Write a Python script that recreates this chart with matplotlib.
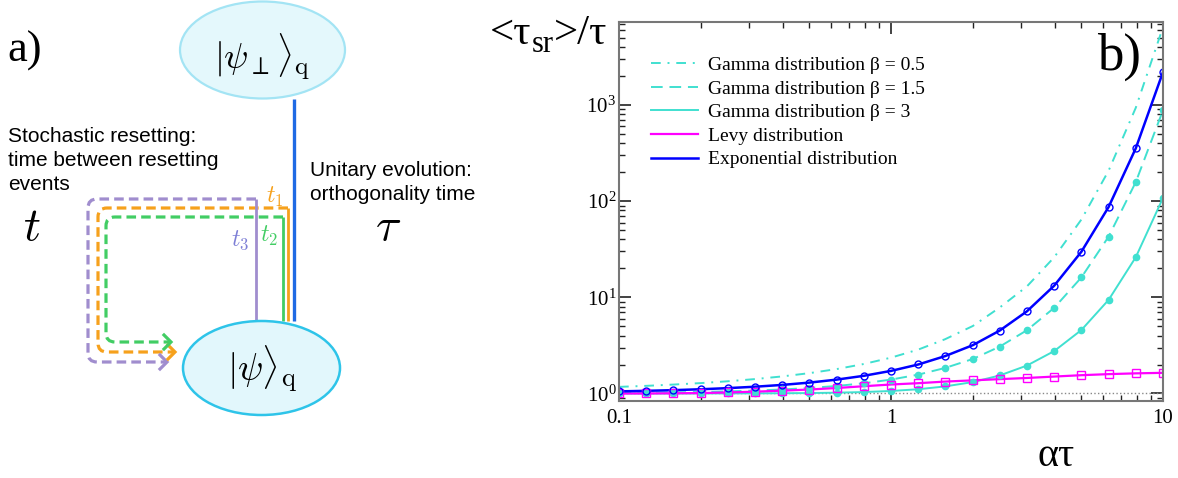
import matplotlib
matplotlib.use("Agg")
import matplotlib.pyplot as plt
from matplotlib.patches import Ellipse, PathPatch
from matplotlib.path import Path

plt.rcParams["font.family"] = ["Liberation Serif", "DejaVu Serif"]
plt.rcParams["mathtext.fontset"] = "stix"

# ---- panel b) data: <tau_sr>/tau against alpha*tau ----
alpha_tau = [0.1, 0.126, 0.158, 0.2, 0.251, 0.316, 0.398, 0.501, 0.631, 0.794,
             1.0, 1.26, 1.58, 2.0, 2.51, 3.16, 3.98, 5.01, 6.31, 7.94, 10.0]
exp_ratio = [1.052, 1.066, 1.083, 1.107, 1.137, 1.176, 1.228, 1.298, 1.394, 1.527,
             1.718, 2.003, 2.447, 3.184, 4.511, 7.154, 13.21, 29.77, 87.0, 354.2, 2202.5]
gamma_05 = [1.172, 1.201, 1.238, 1.283, 1.340, 1.412, 1.505, 1.628, 1.794, 2.026,
            2.359, 2.863, 3.666, 5.037, 7.838, 12.99, 26.07, 64.4, 207.5, 935.0, 6456.0]
gamma_15 = [1.0136, 1.019, 1.0266, 1.0371, 1.0518, 1.0722, 1.1007, 1.1407, 1.1971, 1.2778,
            1.395, 1.571, 1.843, 2.286, 3.073, 4.548, 7.776, 16.09, 42.8, 157.7, 883.6]
gamma_3 = [1.0001, 1.0002, 1.0004, 1.0009, 1.0016, 1.0031, 1.0058, 1.0107, 1.0196, 1.0351,
           1.0619, 1.1074, 1.1844, 1.3149, 1.5401, 1.9515, 2.7607, 4.568, 9.409, 26.11, 108.2]
levy_ratio = [1.00, 1.00, 1.005, 1.01, 1.025, 1.045, 1.07, 1.10, 1.14, 1.19,
              1.24, 1.28, 1.33, 1.37, 1.41, 1.45, 1.50, 1.55, 1.59, 1.62, 1.64]

TURQ = "#40e0d0"
PURPLE = "#a08dce"
ORANGE = "#f6a11c"
GREEN = "#42cd64"

fig = plt.figure(figsize=(11.78, 4.78), dpi=100)

# ---- panel a): schematic, drawn in pixel coordinates ----
ax0 = fig.add_axes([0, 0, 1, 1])
ax0.set_xlim(0, 1178)
ax0.set_ylim(478, 0)
ax0.axis("off")
ax0.set_zorder(3)


def reset_route(x_right, y_top, x_left, y_bot, x_tip, r=9):
    verts = [(x_right, y_top), (x_left + r, y_top), (x_left, y_top), (x_left, y_top + r),
             (x_left, y_bot - r), (x_left, y_bot), (x_left + r, y_bot), (x_tip, y_bot)]
    codes = [Path.MOVETO, Path.LINETO, Path.CURVE3, Path.CURVE3,
             Path.LINETO, Path.CURVE3, Path.CURVE3, Path.LINETO]
    return Path(verts, codes)


routes = [
    # colour, solid x, top y, left x, bottom y, arrow tip x
    (PURPLE, 256, 199, 88, 362, 167),
    (ORANGE, 288, 208, 98, 352, 175),
    (GREEN, 283, 217, 106, 342, 171),
]
for col, xr, yt, xl, yb, xt in routes:
    ax0.plot([xr, xr], [321, yt], color=col, lw=2.0, solid_capstyle="butt")
    ax0.add_patch(PathPatch(reset_route(xr, yt, xl, yb, xt), fill=False, edgecolor=col,
                            lw=2.3, linestyle=(0, (3.0, 1.6))))
    ax0.plot([xt - 7, xt, xt - 7], [yb - 7, yb, yb + 7], color=col, lw=2.3,
             solid_joinstyle="miter")

ax0.plot([294, 294], [99, 321], color="#1f6ae4", lw=2.4, solid_capstyle="butt")

ax0.add_patch(Ellipse((262.5, 50), 165, 97, facecolor="#e4f8fc", edgecolor="#a3e4f4", lw=1.6))
ax0.add_patch(Ellipse((261.5, 368), 157, 94, facecolor="#e2f7fc", edgecolor="#2ec4e9", lw=1.8,
                      zorder=3))
ax0.text(262, 57, r"$|\psi_\perp\rangle_{\rm q}$", math_fontfamily="cm", fontsize=26,
         ha="center", va="center")
ax0.text(262, 369, r"$|\psi\rangle_{\rm q}$", math_fontfamily="cm", fontsize=27,
         ha="center", va="center", zorder=4)

ax0.text(275, 197, r"$t_1$", math_fontfamily="cm", fontsize=17, color=ORANGE,
         ha="center", va="center")
ax0.text(269, 236, r"$t_2$", math_fontfamily="cm", fontsize=17, color=GREEN,
         ha="center", va="center")
ax0.text(240, 240, r"$t_3$", math_fontfamily="cm", fontsize=17, color="#7d7fd6",
         ha="center", va="center")

ax0.text(7, 51, "a)", fontsize=32, ha="left", va="center")
ax0.text(8, 127, "Stochastic resetting:\ntime between resetting\nevents",
         family="Liberation Sans", fontsize=15, ha="left", va="top", linespacing=1.32)
ax0.text(310, 161, "Unitary evolution:\northogonality time",
         family="Liberation Sans", fontsize=15, ha="left", va="top", linespacing=1.32)
ax0.text(32, 229, r"$t$", math_fontfamily="cm", fontsize=34, ha="center", va="center")
ax0.text(388, 229, r"$\tau$", math_fontfamily="cm", fontsize=34, ha="center", va="center")

# ---- panel b): log-log plot ----
ax = fig.add_axes([619 / 1178, 77 / 478, 544 / 1178, 379 / 478])
ax.set_xscale("log")
ax.set_yscale("log")

ax.axhline(1.0, color="#888888", ls=":", lw=1.0)
ax.plot(alpha_tau, gamma_05, color=TURQ, lw=1.4, ls=(0, (5, 3.5, 1, 3.5)),
        label="Gamma distribution β = 0.5")
ax.plot(alpha_tau, gamma_15, color=TURQ, lw=1.4, ls=(0, (6, 3.5)),
        label="Gamma distribution β = 1.5")
ax.plot(alpha_tau, gamma_3, color=TURQ, lw=1.4, label="Gamma distribution β = 3")
ax.plot(alpha_tau, levy_ratio, color="magenta", lw=1.6, label="Levy distribution")
ax.plot(alpha_tau, exp_ratio, color="blue", lw=1.8, label="Exponential distribution")

ax.plot(alpha_tau, gamma_15, ls="none", marker="o", ms=4.5, color=TURQ)
ax.plot(alpha_tau, gamma_3, ls="none", marker="o", ms=4.5, color=TURQ)
ax.plot(alpha_tau, levy_ratio, ls="none", marker="s", ms=5.5, mfc="none", mec="magenta", mew=1.0)
ax.plot(alpha_tau, exp_ratio, ls="none", marker="o", ms=5, mfc="none", mec="blue", mew=1.0)

ax.set_xlim(0.1, 10)
ax.set_ylim(0.8355, 7300)
ax.set_xticks([0.1, 1, 10])
ax.set_xticklabels(["0.1", "1", "10"])
ax.yaxis.set_minor_formatter(matplotlib.ticker.NullFormatter())
ax.xaxis.set_minor_formatter(matplotlib.ticker.NullFormatter())
ax.tick_params(which="both", direction="in", top=True, right=True, labelsize=15, color="#222222")
ax.tick_params(which="major", length=8.5, width=1.2)
ax.tick_params(which="minor", length=4.5, width=1.0)
ax.tick_params(axis="x", pad=6)
ax.tick_params(axis="y", pad=2)
for sp in ax.spines.values():
    sp.set_color("#777777")
    sp.set_linewidth(1.5)

ax.legend(loc="upper left", bbox_to_anchor=(0.045, 0.93), frameon=False, fontsize=14,
          handlelength=2.4, handletextpad=0.5, labelspacing=0.31, borderaxespad=0)

# y-axis title "<tau_sr>/tau", pieced together to avoid math relation spacing
renderer = fig.canvas.get_renderer()
x_cur = 490
for piece, size, base in [("<τ", 31, 44), ("sr", 22, 52), (">/τ", 31, 44)]:
    t = ax0.text(x_cur, base, piece, fontsize=size, ha="left", va="baseline")
    x_cur = t.get_window_extent(renderer).x1

ax0.text(1097, 57, "b)", fontsize=38, ha="left", va="center")
ax0.text(1056, 456, "ατ", fontsize=29, ha="center", va="center")

fig.savefig("out.png", dpi=100)
